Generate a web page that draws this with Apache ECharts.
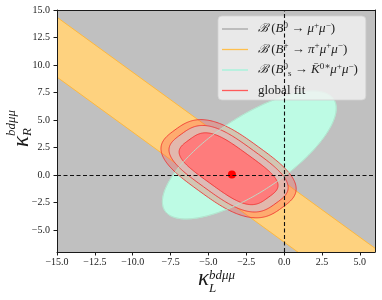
<!DOCTYPE html>
<html><head><meta charset="utf-8">
<script src="https://cdn.jsdelivr.net/npm/echarts@6/dist/echarts.min.js"></script>
<style>html,body{margin:0;padding:0;background:#fff}#c{width:382px;height:300px}</style>
</head><body><div id="c"></div>
<script>
// ---- data ----
const xRange = [-15, 6];
const yRange = [-7, 15];
const xTicks = [-15, -12.5, -10, -7.5, -5, -2.5, 0, 2.5, 5];
const yTicks = [-5, -2.5, 0, 2.5, 5, 7.5, 10, 12.5, 15];
// B+ -> pi+ mu mu allowed band: y = slope*x + intercept, between two intercepts
const bandSlope = [-1];
const bandIntercepts = [-0.66, -6.1];
// Bs -> K*0 mu mu allowed ellipse
const ellipseCenter = [-2.3, 1.82];
const ellipseSemiAxes = [7.6, 3.0];
const ellipseAngleDeg = [45.5];
// global fit contours: inner, middle, outer
const fitCenter = [-3.67, 0.57];
const fitAngleDeg = [-45];
const fitHalfLength = [3.7, 4.43, 5.0];
const fitHalfWidth = [1.8, 2.33, 2.8];
const fitShapeExp = [3.5, 3.2, 3.0];
const bestFit = [[-3.45, 0.05]];
const refX = [0];
const refY = [0];
const legendKeys = ['B0', 'Bpi', 'BsK', 'fit'];
const legendLabels = {
  B0: '{g|}{c|ℬ}{r| (}{i|B}{sp|0}{r| → }{i|μ}{sp|+}{i|μ}{sp|−}{r|)}',
  Bpi: '{g|}{c|ℬ}{r| (}{i|B}{sp|+}{r| → }{i|π}{sp|+}{i|μ}{sp|+}{i|μ}{sp|−}{r|)}',
  BsK: '{g|}{c|ℬ}{r| (}{i|B}{sp|0}{sb|s}{r| → }{i|K̄}{sp|0∗}{i|μ}{sp|+}{i|μ}{sp|−}{r|)}',
  fit: '{g|}{r|global fit}'
};
const legendColors = ['#a6a6a6', '#ffbf4d', '#9ff5da', '#ff5a5a'];

const SERIF = '"Liberation Serif", "DejaVu Serif", serif';

function shapePoints(api, cx, cy, a, b, angDeg, n) {
  const th = angDeg * Math.PI / 180, ct = Math.cos(th), st = Math.sin(th);
  const pts = [];
  const N = 240;
  for (let k = 0; k < N; k++) {
    const t = 2 * Math.PI * k / N;
    const c = Math.cos(t), s = Math.sin(t);
    const u = a * Math.sign(c) * Math.pow(Math.abs(c), 2 / n);
    const v = b * Math.sign(s) * Math.pow(Math.abs(s), 2 / n);
    pts.push(api.coord([cx + u * ct - v * st, cy + u * st + v * ct]));
  }
  return pts;
}

const chart = echarts.init(document.getElementById('c'), null, {renderer: 'canvas'});
const baseX = {
  type: 'value', min: xRange[0], max: xRange[1],
  splitLine: {show: false},
  axisLine: {show: true, onZero: false, lineStyle: {color: '#1a1a1a', width: 1}},
};
const baseY = {
  type: 'value', min: yRange[0], max: yRange[1],
  splitLine: {show: false},
  axisLine: {show: true, onZero: false, lineStyle: {color: '#1a1a1a', width: 1}},
};
const fmt = v => (v < 0 ? '−' : '') + Math.abs(v).toFixed(1);

chart.setOption({
  animation: false,
  grid: {left: 57, right: 7, top: 10, bottom: 48, show: true, backgroundColor: '#c0c0c0', borderWidth: 0},
  xAxis: [
    Object.assign({}, baseX, {
      position: 'bottom', z: 5,
      axisTick: {show: true, inside: false, length: 3.5, customValues: xTicks, lineStyle: {color: '#1a1a1a'}},
      axisLabel: {customValues: xTicks, formatter: fmt, margin: 5, fontFamily: SERIF, fontSize: 10, color: '#222'}
    }),
    Object.assign({}, baseX, {position: 'top', z: 5, axisTick: {show: false}, axisLabel: {show: false}})
  ],
  yAxis: [
    Object.assign({}, baseY, {
      position: 'left', z: 5,
      axisTick: {show: true, inside: false, length: 3.5, customValues: yTicks, lineStyle: {color: '#1a1a1a'}},
      axisLabel: {customValues: yTicks, formatter: fmt, margin: 7, fontFamily: SERIF, fontSize: 10, color: '#222'}
    }),
    Object.assign({}, baseY, {position: 'right', z: 5, axisTick: {show: false}, axisLabel: {show: false}})
  ],
  legend: {
    orient: 'vertical', left: 218, top: 16,
    selectedMode: false,
    icon: 'rect', itemWidth: 26, itemHeight: 1.3, itemGap: 6,
    padding: [5, 8, 3, 4],
    backgroundColor: 'rgba(242,242,242,0.82)',
    borderColor: 'rgba(210,210,210,0.8)', borderWidth: 1, borderRadius: 4,
    data: legendKeys.map((k, i) => ({name: k, itemStyle: {color: legendColors[i]}})),
    formatter: name => legendLabels[name],
    textStyle: {
      color: '#222', fontFamily: SERIF, fontSize: 13,
      rich: {
        g: {width: 5},
        r: {fontFamily: SERIF, fontSize: 13, lineHeight: 16, color: '#222'},
        c: {fontFamily: '"DejaVu Serif", serif', fontStyle: 'italic', fontSize: 12, lineHeight: 16, color: '#222'},
        i: {fontFamily: SERIF, fontStyle: 'italic', fontSize: 13, lineHeight: 16, color: '#222'},
        sp: {fontFamily: SERIF, fontSize: 9, lineHeight: 10, verticalAlign: 'top', color: '#222'},
        sb: {fontFamily: SERIF, fontSize: 9, lineHeight: 10, verticalAlign: 'bottom', color: '#222'}
      }
    }
  },
  graphic: [
    {type: 'text', x: 198, y: 279, z: 10, style: {text: 'κ', fontFamily: SERIF, fontStyle: 'italic', fontSize: 23, fill: '#1a1a1a', verticalAlign: 'middle'}},
    {type: 'text', x: 209, y: 276, z: 10, style: {text: 'bdμμ', fontFamily: SERIF, fontStyle: 'italic', fontSize: 13, fill: '#1a1a1a', verticalAlign: 'middle'}},
    {type: 'text', x: 209, y: 288.5, z: 10, style: {text: 'L', fontFamily: SERIF, fontStyle: 'italic', fontSize: 13, fill: '#1a1a1a', verticalAlign: 'middle'}},
    {type: 'text', x: 22, y: 147, rotation: Math.PI / 2, z: 10, style: {text: 'κ', fontFamily: SERIF, fontStyle: 'italic', fontSize: 23, fill: '#1a1a1a', verticalAlign: 'middle'}},
    {type: 'text', x: 11.5, y: 136, rotation: Math.PI / 2, z: 10, style: {text: 'bdμμ', fontFamily: SERIF, fontStyle: 'italic', fontSize: 13, fill: '#1a1a1a', verticalAlign: 'middle'}},
    {type: 'text', x: 27.5, y: 136, rotation: Math.PI / 2, z: 10, style: {text: 'R', fontFamily: SERIF, fontStyle: 'italic', fontSize: 13, fill: '#1a1a1a', verticalAlign: 'middle'}}
  ],
  series: [
    {name: 'B0', type: 'line', data: [], silent: true, itemStyle: {color: legendColors[0]}},
    {
      name: 'Bpi', type: 'custom', clip: true, silent: true, z: 2,
      itemStyle: {color: legendColors[1]},
      data: [[xRange[0], 0]],
      renderItem: (params, api) => {
        const m = bandSlope[0];
        const [x0, x1] = xRange;
        const up = bandIntercepts[0], lo = bandIntercepts[1];
        const p = [[x0, m * x0 + up], [x1, m * x1 + up], [x1, m * x1 + lo], [x0, m * x0 + lo]].map(q => api.coord(q));
        return {type: 'group', children: [
          {type: 'polygon', shape: {points: p}, style: {fill: '#fed27f'}},
          {type: 'polyline', shape: {points: [p[0], p[1]]}, style: {stroke: '#ffb83d', lineWidth: 1, fill: null}},
          {type: 'polyline', shape: {points: [p[3], p[2]]}, style: {stroke: '#ffb83d', lineWidth: 1, fill: null}}
        ]};
      }
    },
    {
      name: 'BsK', type: 'custom', clip: true, silent: true, z: 2,
      itemStyle: {color: legendColors[2]},
      data: [[ellipseCenter[0], ellipseCenter[1]]],
      renderItem: (params, api) => ({
        type: 'polygon',
        shape: {points: shapePoints(api, ellipseCenter[0], ellipseCenter[1], ellipseSemiAxes[0], ellipseSemiAxes[1], ellipseAngleDeg[0], 2)},
        style: {fill: '#bdfbe4', stroke: '#a8f3d8', lineWidth: 1}
      })
    },
    {
      name: 'fit', type: 'custom', clip: true, silent: true, z: 2,
      itemStyle: {color: legendColors[3]},
      data: [[fitCenter[0], fitCenter[1], 2], [fitCenter[0], fitCenter[1], 1], [fitCenter[0], fitCenter[1], 0]],
      renderItem: (params, api) => {
        const i = api.value(2);
        const fills = ['rgba(255,122,122,0.97)', 'rgba(222,186,182,0.88)', 'rgba(255,90,80,0.33)'];
        return {
          type: 'polygon',
          shape: {points: shapePoints(api, fitCenter[0], fitCenter[1], fitHalfLength[i], fitHalfWidth[i], fitAngleDeg[0], fitShapeExp[i])},
          style: {fill: fills[i], stroke: 'rgba(240,40,40,0.8)', lineWidth: 1}
        };
      }
    },
    {
      name: 'BsK-edge', type: 'custom', clip: true, silent: true, z: 3,
      data: [[ellipseCenter[0], ellipseCenter[1]]],
      renderItem: (params, api) => ({
        type: 'polygon',
        shape: {points: shapePoints(api, ellipseCenter[0], ellipseCenter[1], ellipseSemiAxes[0], ellipseSemiAxes[1], ellipseAngleDeg[0], 2)},
        style: {fill: null, stroke: 'rgba(185,225,205,0.9)', lineWidth: 1}
      })
    },
    {
      name: 'ref', type: 'line', data: [], silent: true, z: 3,
      markLine: {
        silent: true, symbol: ['none', 'none'], animation: false,
        label: {show: false},
        lineStyle: {type: [4, 2.5], color: '#111', width: 1.1},
        data: refX.map(v => ({xAxis: v})).concat(refY.map(v => ({yAxis: v})))
      }
    },
    {
      name: 'best', type: 'scatter', data: bestFit, symbolSize: 8, silent: true, z: 3,
      itemStyle: {color: '#ff0000', opacity: 1}
    }
  ]
});
</script>
</body></html>
